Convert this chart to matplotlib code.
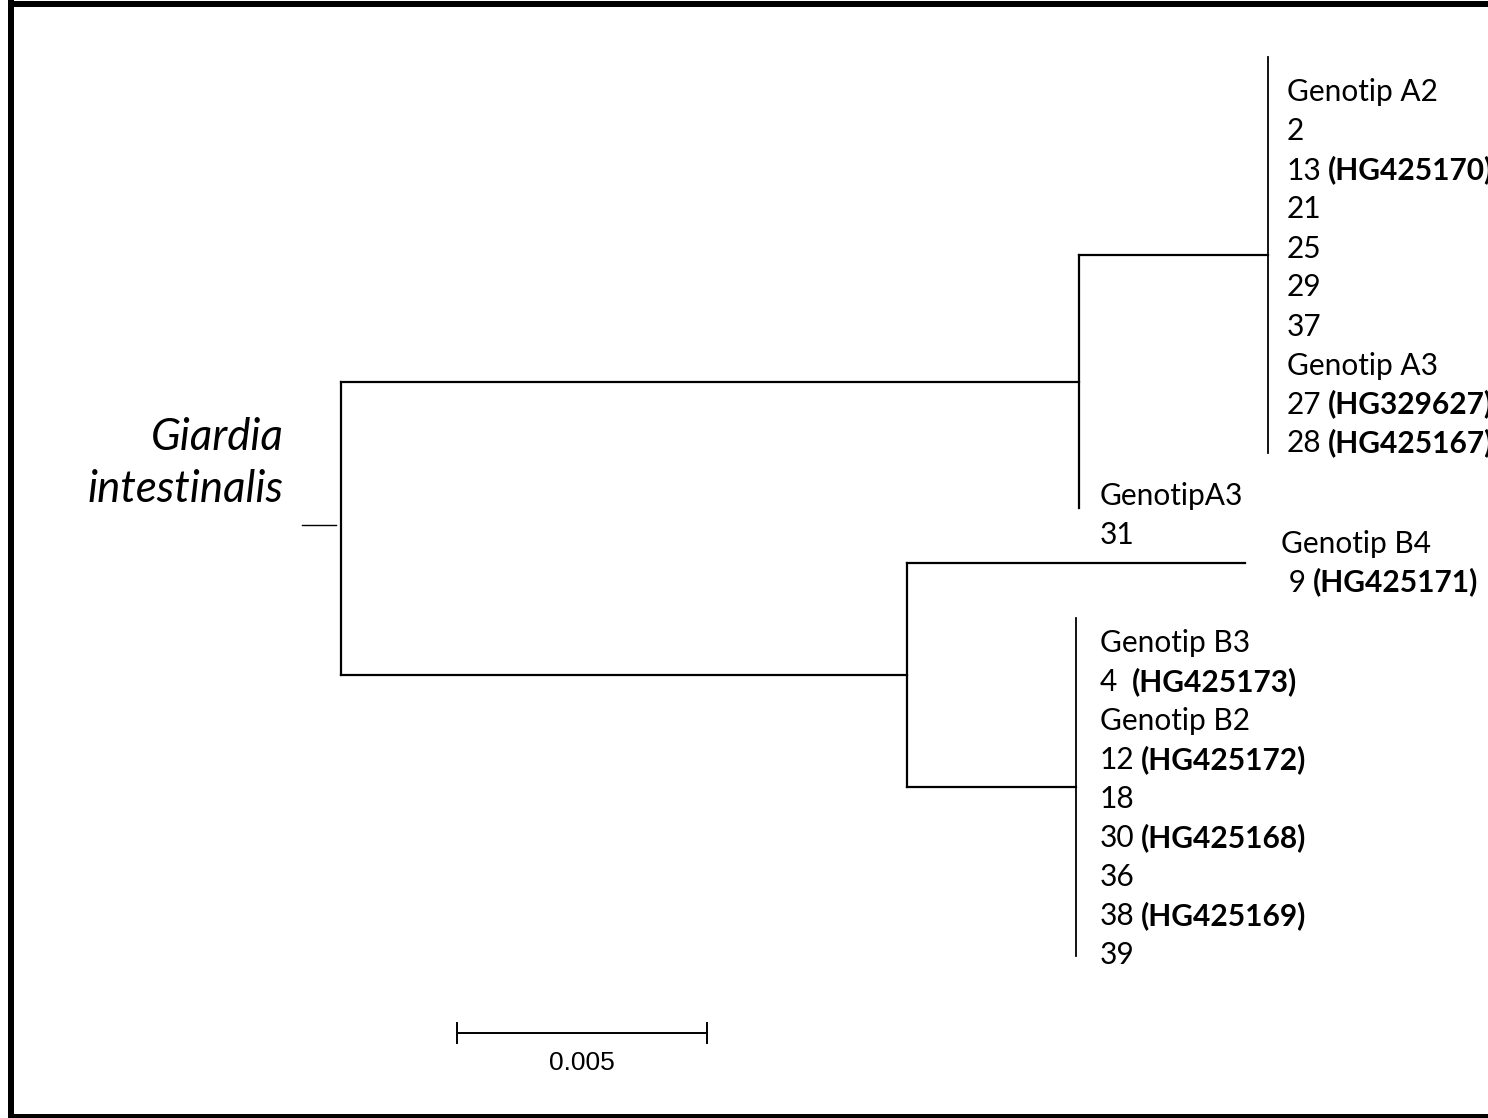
import matplotlib.pyplot as plt
from matplotlib.lines import Line2D

# ---------------------------------------------
# data: branch lengths (substitutions/site) and leaf labels
# each label line = (regular part, bold part)
# ---------------------------------------------
bl_root_a = 0.01476
bl_a_cladeA = 0.00378
bl_a_a3 = 0.0
bl_root_b = 0.01132
bl_b_b4 = 0.00676
bl_b_cladeB = 0.00338
scale_len = 0.005
scale_label = "0.005"
root_name = ["Giardia", "intestinalis"]

labels_cladeA = [
    ("Genotip A2", ""), ("2", ""), ("13", "(HG425170)"), ("21", ""),
    ("25", ""), ("29", ""), ("37", ""), ("Genotip A3", ""),
    ("27", "(HG329627)"), ("28", "(HG425167)"),
]
labels_a3 = [("GenotipA3", ""), ("31", "")]
labels_b4 = [("Genotip B4", ""), (" 9", "(HG425171)")]
labels_cladeB = [
    ("Genotip B3", ""), ("4 ", "(HG425173)"), ("Genotip B2", ""),
    ("12", "(HG425172)"), ("18", ""), ("30", "(HG425168)"), ("36", ""),
    ("38", "(HG425169)"), ("39", ""),
]

# ---------------------------------------------
# layout (pixels)
# ---------------------------------------------
W, H = 1488, 1118
PX_PER_UNIT = 50000
ROOT_PX = 341
LINE_H = 39
leaf_y = {"A": 255, "A3": 508, "B4": 563, "B": 787}
label_dy = {"A": 13, "A3": 8, "B4": 0, "B": 12}
label_dx = {"A": 19, "A3": 21, "B4": 36, "B": 24}
bar_half = {"A": 198, "B": 169}
FONT = "Lato"
FS = 21.5
LW = 1.6

fig = plt.figure(figsize=(W / 100, H / 100), dpi=100)
ax = fig.add_axes([0, 0, 1, 1])
ax.set_xlim(-ROOT_PX / PX_PER_UNIT, (W - ROOT_PX) / PX_PER_UNIT)
ax.set_ylim(H, 0)
ax.axis("off")


def hline(x0, x1, y, lw=LW):
    ax.plot([x0, x1], [y, y], color="black", lw=lw, solid_capstyle="projecting")


def vline(x, y0, y1, lw=LW):
    ax.plot([x, x], [y0, y1], color="black", lw=lw, solid_capstyle="projecting")


def put_labels(x, key, lines):
    xoff = label_dx[key] / PX_PER_UNIT
    n = len(lines)
    center = leaf_y[key] + label_dy[key]
    for i, (reg, bold) in enumerate(lines):
        y = center + (i - (n - 1) / 2) * LINE_H
        t = ax.text(x + xoff, y, reg, fontsize=FS, family=FONT,
                    va="center", ha="left")
        if bold:
            ax.annotate(bold, xy=(1, 0), xycoords=t, xytext=(0.22 * FS, 0),
                        textcoords="offset points", va="bottom", ha="left",
                        fontsize=FS, family=FONT, fontweight="bold")


# ---------------------------------------------
# tree
# ---------------------------------------------
x_root = 0.0
x_a = x_root + bl_root_a
x_b = x_root + bl_root_b
x_cladeA = x_a + bl_a_cladeA
x_a3 = x_a + bl_a_a3
x_b4 = x_b + bl_b_b4
x_cladeB = x_b + bl_b_cladeB

y_a = (leaf_y["A"] + leaf_y["A3"]) / 2
y_b = (leaf_y["B4"] + leaf_y["B"]) / 2
y_root = (y_a + y_b) / 2

# root
vline(x_root, y_a, y_b)
hline(-0.00078, -0.0001, y_root - 3, lw=1.0)
hline(x_root, x_a, y_a)
hline(x_root, x_b, y_b)

# node A
vline(x_a, leaf_y["A"], leaf_y["A3"])
hline(x_a, x_cladeA, leaf_y["A"])
vline(x_cladeA, leaf_y["A"] - bar_half["A"], leaf_y["A"] + bar_half["A"], lw=1.3)

# node B
vline(x_b, leaf_y["B4"], leaf_y["B"])
hline(x_b, x_b4, leaf_y["B4"])
hline(x_b, x_cladeB, leaf_y["B"])
vline(x_cladeB, leaf_y["B"] - bar_half["B"], leaf_y["B"] + bar_half["B"], lw=1.3)

put_labels(x_cladeA, "A", labels_cladeA)
put_labels(x_a3, "A3", labels_a3)
put_labels(x_b4, "B4", labels_b4)
put_labels(x_cladeB, "B", labels_cladeB)

# root name
ax.text(-0.00115, 437, root_name[0], fontsize=31.5, family=FONT, style="italic",
        ha="right", va="center")
ax.text(-0.00115, 490, root_name[1], fontsize=31.5, family=FONT, style="italic",
        ha="right", va="center")

# scale bar
sb_x0 = 0.00232
sb_y = 1033
hline(sb_x0, sb_x0 + scale_len, sb_y, lw=1.4)
vline(sb_x0, sb_y - 10, sb_y + 10, lw=1.4)
vline(sb_x0 + scale_len, sb_y - 10, sb_y + 10, lw=1.4)
ax.text(sb_x0 + scale_len / 2, 1063, scale_label, fontsize=19,
        family="Liberation Sans", ha="center", va="center")

# frame (left, top, bottom)
for xs, ys, lw in [([11, 11], [0, H], 6), ([8, W], [4, 4], 6), ([8, W], [1115.5, 1115.5], 5)]:
    fig.add_artist(Line2D([x / W for x in xs], [1 - y / H for y in ys],
                          transform=fig.transFigure, color="black",
                          lw=lw * 72 / 100, solid_capstyle="butt"))

fig.savefig("out.png", dpi=100)
